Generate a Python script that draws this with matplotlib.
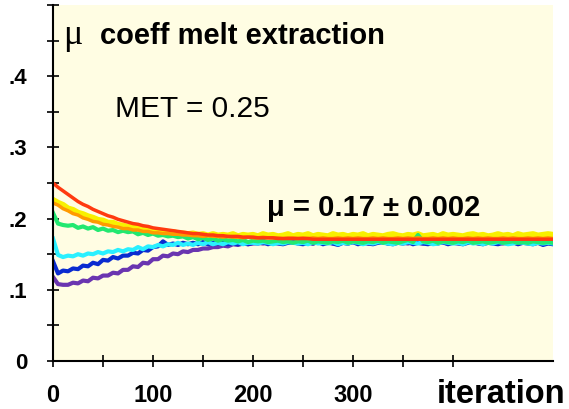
import matplotlib
matplotlib.use("Agg")
import matplotlib.pyplot as plt

plt.rcParams['font.family'] = ['Liberation Sans', 'DejaVu Sans']

# iterations sampled every 5 steps
iters = list(range(0, 505, 5))

red = [.250,.244,.239,.234,.229,.224,.220,.217,.213,.210,
       .207,.204,.202,.199,.197,.195,.193,.192,.190,.189,
       .187,.186,.185,.184,.183,.182,.181,.180,.179,.179,
       .178,.177,.177,.176,.176,.175,.175,.175,.174,.174,
       .174,.173,.173,.173,.173,.172,.172,.172,.172,.172,
       .172,.172,.171,.171,.171,.171,.171,.171,.171,.171,
       .171,.171,.171,.171,.171,.171,.171,.171,.171,.171,
       .171,.171,.171,.171,.171,.171,.171,.171,.171,.171,
       .171,.171,.171,.171,.171,.171,.171,.171,.171,.171,
       .171,.171,.171,.171,.171,.171,.171,.171,.171,.171,
       .171]

orange = [.222,.219,.214,.211,.207,.205,.201,.199,.196,.195,
          .192,.191,.189,.188,.186,.186,.184,.184,.182,.182,
          .180,.180,.179,.179,.178,.178,.177,.177,.176,.176,
          .175,.176,.175,.175,.174,.175,.174,.174,.173,.174,
          .173,.173,.174,.173,.173,.173,.172,.173,.173,.172,
          .173,.172,.173,.172,.173,.172,.172,.173,.172,.173,
          .172,.173,.172,.172,.173,.172,.173,.172,.172,.173,
          .172,.173,.172,.173,.172,.172,.173,.172,.173,.172,
          .173,.172,.172,.173,.172,.173,.172,.173,.172,.172,
          .173,.172,.173,.172,.172,.173,.172,.173,.172,.173,
          .172]

yellow = [.226,.222,.219,.214,.212,.208,.206,.203,.201,.198,
          .197,.194,.194,.191,.190,.188,.188,.186,.185,.184,
          .183,.182,.182,.180,.181,.179,.179,.178,.179,.177,
          .178,.176,.178,.176,.177,.176,.178,.175,.177,.176,
          .177,.175,.178,.176,.177,.175,.176,.178,.175,.177,
          .176,.178,.175,.177,.176,.175,.178,.176,.177,.175,
          .177,.176,.178,.175,.177,.176,.175,.177,.178,.176,
          .175,.177,.176,.178,.175,.176,.177,.175,.178,.176,
          .177,.176,.175,.177,.178,.176,.177,.175,.176,.178,
          .176,.177,.175,.178,.176,.177,.178,.176,.177,.178,
          .177]

green = [.208,.193,.191,.190,.191,.187,.189,.186,.188,.184,
         .186,.183,.184,.181,.183,.181,.182,.178,.180,.177,
         .179,.176,.177,.175,.176,.174,.175,.172,.174,.171,
         .173,.170,.172,.169,.171,.169,.170,.168,.170,.167,
         .169,.168,.169,.167,.168,.169,.167,.168,.166,.168,
         .167,.169,.166,.168,.167,.166,.168,.167,.169,.166,
         .168,.167,.166,.168,.167,.169,.166,.168,.167,.166,
         .168,.170,.167,.177,.168,.167,.169,.166,.168,.167,
         .166,.168,.167,.169,.166,.167,.168,.166,.167,.168,
         .166,.167,.168,.166,.167,.166,.168,.167,.166,.167,
         .166]

cyan = [.172,.149,.146,.148,.147,.150,.148,.151,.150,.153,
        .151,.154,.153,.156,.154,.157,.156,.160,.157,.161,
        .160,.163,.161,.164,.163,.166,.163,.165,.163,.166,
        .164,.167,.164,.166,.164,.167,.165,.167,.164,.166,
        .166,.165,.167,.166,.164,.166,.165,.167,.166,.165,
        .166,.164,.167,.165,.166,.165,.167,.164,.166,.165,
        .167,.166,.164,.166,.165,.167,.166,.165,.164,.166,
        .165,.167,.166,.165,.167,.166,.164,.165,.167,.166,
        .165,.166,.164,.167,.165,.166,.164,.166,.165,.167,
        .166,.164,.165,.167,.166,.165,.164,.166,.165,.166,
        .165]

blue = [.140,.123,.127,.126,.130,.129,.134,.133,.138,.136,
        .142,.141,.146,.144,.148,.148,.152,.151,.156,.155,
        .160,.161,.168,.163,.165,.163,.166,.164,.166,.164,
        .167,.164,.166,.165,.167,.164,.166,.164,.167,.164,
        .166,.165,.167,.164,.166,.165,.164,.166,.167,.165,
        .164,.166,.165,.167,.164,.166,.165,.163,.166,.165,
        .167,.164,.166,.165,.164,.166,.167,.165,.164,.166,
        .165,.167,.164,.166,.165,.164,.166,.165,.167,.164,
        .166,.165,.164,.166,.167,.165,.164,.166,.165,.164,
        .166,.165,.167,.164,.166,.165,.164,.166,.163,.165,
        .164]

purple = [.118,.108,.107,.107,.110,.109,.113,.112,.117,.116,
          .120,.120,.124,.123,.128,.128,.133,.132,.138,.137,
          .143,.143,.148,.147,.151,.150,.154,.153,.156,.156,
          .158,.158,.160,.160,.162,.161,.164,.163,.165,.164,
          .165,.166,.165,.166,.167,.166,.165,.167,.166,.168,
          .166,.167,.165,.167,.166,.168,.165,.167,.166,.165,
          .167,.166,.168,.165,.167,.166,.167,.165,.166,.168,
          .166,.165,.167,.166,.165,.167,.166,.168,.166,.165,
          .167,.166,.165,.167,.168,.166,.165,.167,.166,.167,
          .165,.167,.166,.165,.167,.166,.168,.166,.165,.167,
          .166]

yticks = [0, .05, .1, .15, .2, .25, .3, .35, .4, .45, .5]
ylabels = ['0', '', '.1', '', '.2', '', '.3', '', '.4', '', '']
xticks = [0, 50, 100, 150, 200, 250, 300, 350, 400]
xlabels = ['0', '', '100', '', '200', '', '300', '', '']

W, H = 569, 409
fig = plt.figure(figsize=(W / 100, H / 100), dpi=100)
ax = fig.add_axes([53 / W, (H - 361) / H, 500 / W, 356 / H])
ax.set_facecolor('#fffde3')

# yellow sits under the others, thick and noisy
ax.plot(iters, yellow, color='#f8f000', lw=4.5)
ax.plot(iters, purple, color='#6a35b0', lw=3)
ax.plot(iters, blue, color='#0a2bd0', lw=3)
ax.plot(iters, cyan, color='#2af0ff', lw=3)
ax.plot(iters, green, color='#22e870', lw=3)
ax.plot(iters, orange, color='#ff9a00', lw=2.5)
ax.plot(iters, red, color='#ff3a10', lw=2.5)

ax.set_xlim(0, 500)
ax.set_ylim(0, 0.5)
ax.spines['top'].set_visible(False)
ax.spines['right'].set_visible(False)
ax.spines['left'].set_linewidth(1.5)
ax.spines['bottom'].set_linewidth(1.5)

ax.set_yticks(yticks)
ax.set_yticklabels(ylabels, fontsize=16, fontweight='bold')
ax.set_xticks(xticks)
ax.set_xticklabels(xlabels, fontsize=17, fontweight='bold')
ax.tick_params(axis='both', direction='inout', length=9, width=1.2)
ax.tick_params(axis='y', pad=14)
ax.tick_params(axis='x', pad=12)

fig.text(63 / W, 1 - 44 / H, 'μ', fontsize=26, family='Liberation Serif',
         va='baseline')
fig.text(100 / W, 1 - 44 / H, 'coeff melt extraction', fontsize=21,
         fontweight='bold', va='baseline')
fig.text(115 / W, 1 - 117 / H, 'MET = 0.25', fontsize=21.5, va='baseline')
fig.text(267 / W, 1 - 216 / H, 'μ = 0.17 ± 0.002', fontsize=21,
         fontweight='bold', va='baseline')
fig.text(565 / W, 1 - 403 / H, 'iteration', fontsize=23.5, fontweight='bold',
         ha='right', va='baseline')

fig.savefig('out.png', dpi=100)
